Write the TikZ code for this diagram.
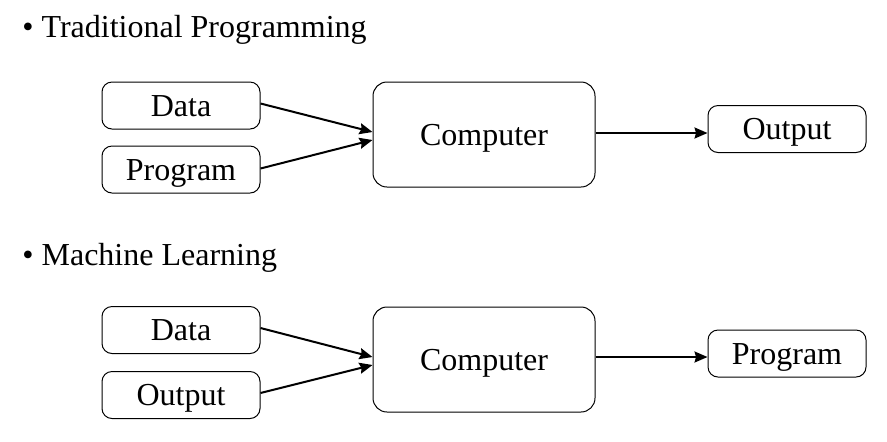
\documentclass[tikz,border=0pt]{standalone}
\usepackage{fontspec}
\setmainfont{Liberation Serif}
\usetikzlibrary{arrows.meta}
\begin{document}
\begin{tikzpicture}[>={Stealth[length=6.5pt,width=5.5pt,inset=0.8pt]}, x=0.5pt, y=-0.5pt,
	box/.style={draw, line width=0.5pt, rounded corners=5pt, inner sep=0pt, minimum width=79pt, minimum height=23.5pt, text height=10.5pt, text depth=0pt, font=\fontsize{16}{19}\selectfont},
	cpu/.style={box, rounded corners=7pt, minimum width=111pt, minimum height=52.5pt},
	head/.style={anchor=base west, inner sep=0pt, font=\fontsize{16}{19}\selectfont},
	link/.style={->, line width=1pt}]
		\useasboundingbox (0,0) rectangle (887,441);
		\node[head] (trad) at (22,37) {• Traditional Programming};
		\node[box] (data1) at (181,105.5) {Data};
		\node[box] (prog1) at (181,169.5) {Program};
		\node[cpu] (comp1) at (484,134.5) {Computer};
		\node[box] (out1) at (787,129) {Output};
		\draw[link] ([yshift=1pt]data1.east) -- ([yshift=1.25pt]comp1.west);
		\draw[link] ([yshift=0.5pt]prog1.east) -- ([yshift=-2.75pt]comp1.west);
		\draw[link] ([yshift=0.75pt]comp1.east) -- ([yshift=0.75pt]comp1.east -| out1.west);
		\node[head] (ml) at (22,265) {• Machine Learning};
		\node[box] (data2) at (181,330) {Data};
		\node[box] (out2) at (181,395) {Output};
		\node[cpu] (comp2) at (484,359.5) {Computer};
		\node[box] (prog2) at (787,353.5) {Program};
		\draw[link] ([yshift=1pt]data2.east) -- ([yshift=1.25pt]comp2.west);
		\draw[link] ([yshift=1pt]out2.east) -- ([yshift=-2.75pt]comp2.west);
		\draw[link] ([yshift=1.25pt]comp2.east) -- ([yshift=1.25pt]comp2.east -| prog2.west);
		\end{tikzpicture}
\end{document}
